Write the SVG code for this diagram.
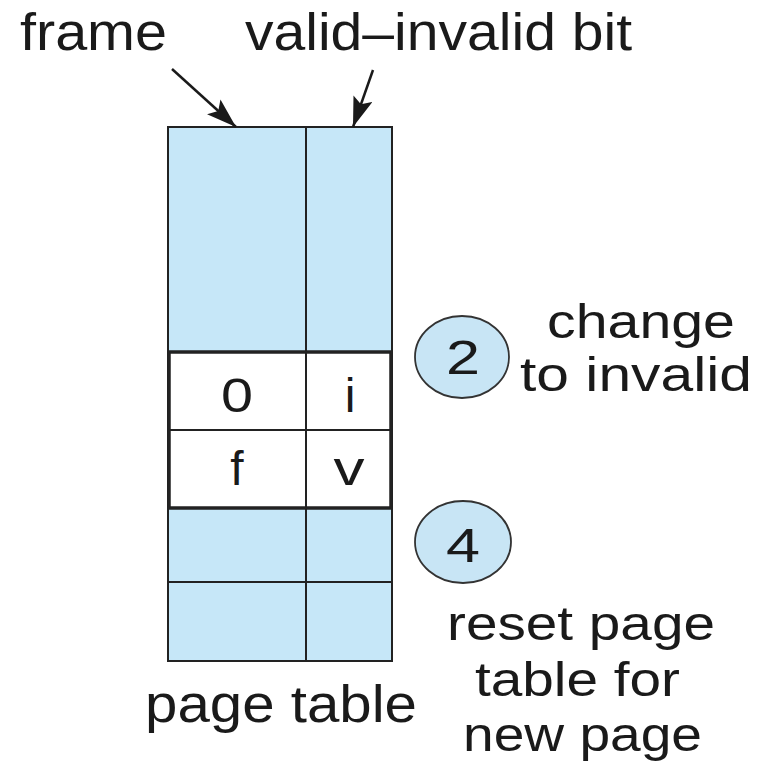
<svg xmlns="http://www.w3.org/2000/svg" width="761" height="769" viewBox="0 0 761 769">
<style>
  text { font-family: "Liberation Sans", Arial, Helvetica, sans-serif; fill: #1a1a1a; }
  .big { font-size: 51px; }
  .dig { font-size: 48px; }
  .lbl { font-size: 49px; }
  .blue { fill: #c6e7f8; }
  .white { fill: #ffffff; }
  .grid { stroke: #222; stroke-width: 2; fill: none; }
  .thick { stroke: #222; stroke-width: 3.5; fill: none; }
  .step { fill: #c8e5f5; stroke: #333; stroke-width: 1.8; }
  .arrow { stroke: #1a1a1a; stroke-width: 2.5; fill: none; }
</style>
<defs>
  <marker id="ah" viewBox="0 0 30 20" refX="30" refY="10" markerWidth="30" markerHeight="20" markerUnits="userSpaceOnUse" orient="auto">
    <path d="M0,0 L30,10 L0,20 L6,10 Z" fill="#1a1a1a"/>
  </marker>
</defs>
<rect width="761" height="769" fill="#ffffff"/>

<g id="labels-top">
  <text class="big" x="20" y="50" textLength="147" lengthAdjust="spacingAndGlyphs">frame</text>
  <text class="big" x="245" y="50" textLength="387" lengthAdjust="spacingAndGlyphs">valid–invalid bit</text>
</g>

<g id="page-table">
  <rect class="blue" x="168" y="127" width="224" height="225"/>
  <rect class="white" x="168" y="352" width="224" height="156"/>
  <rect class="blue" x="168" y="508" width="224" height="153"/>
  <rect class="grid" x="168" y="127" width="224" height="534"/>
  <line class="grid" x1="306" y1="127" x2="306" y2="661"/>
  <line class="thick" x1="168" y1="352" x2="392" y2="352"/>
  <line class="grid" x1="168" y1="430" x2="392" y2="430"/>
  <line class="thick" x1="168" y1="508" x2="392" y2="508"/>
  <line class="grid" x1="168" y1="582" x2="392" y2="582"/>
  <line class="thick" x1="169" y1="352" x2="169" y2="508"/>
  <line class="thick" x1="391" y1="352" x2="391" y2="508"/>
  <text class="dig" x="237" y="412" text-anchor="middle" textLength="32" lengthAdjust="spacingAndGlyphs">0</text>
  <text class="dig" x="350" y="412" text-anchor="middle">i</text>
  <text class="dig" x="237" y="485" text-anchor="middle">f</text>
  <text class="dig" x="349" y="485" text-anchor="middle" textLength="31" lengthAdjust="spacingAndGlyphs">v</text>
  <text class="big" x="145" y="722" textLength="272" lengthAdjust="spacingAndGlyphs">page table</text>
</g>

<g id="step-2">
  <ellipse class="step" cx="462" cy="357" rx="47" ry="41"/>
  <text class="dig" x="463" y="374" text-anchor="middle" textLength="34" lengthAdjust="spacingAndGlyphs">2</text>
  <text class="lbl" x="547" y="338" textLength="188" lengthAdjust="spacingAndGlyphs">change</text>
  <text class="lbl" x="520" y="391" textLength="232" lengthAdjust="spacingAndGlyphs">to invalid</text>
</g>

<g id="step-4">
  <ellipse class="step" cx="463" cy="542" rx="48" ry="41"/>
  <text class="dig" x="463" y="562" text-anchor="middle" textLength="34" lengthAdjust="spacingAndGlyphs">4</text>
  <text class="lbl" x="447" y="640" textLength="268" lengthAdjust="spacingAndGlyphs">reset page</text>
  <text class="lbl" x="475" y="696" textLength="205" lengthAdjust="spacingAndGlyphs">table for</text>
  <text class="lbl" x="463" y="751" textLength="239" lengthAdjust="spacingAndGlyphs">new page</text>
</g>

<g id="connectors">
  <line class="arrow" x1="172" y1="69" x2="236" y2="127" marker-end="url(#ah)"/>
  <line class="arrow" x1="373" y1="70" x2="353" y2="127" marker-end="url(#ah)"/>
</g>
</svg>
